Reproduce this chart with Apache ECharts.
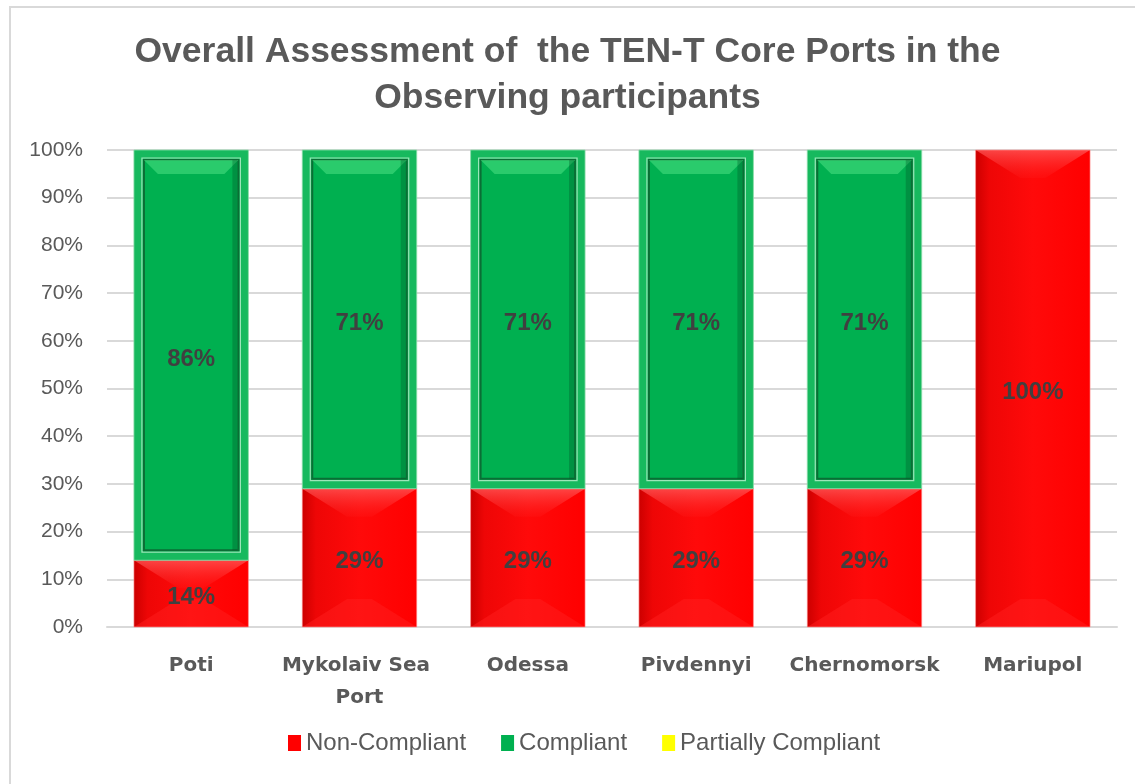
<!DOCTYPE html>
<html>
<head>
<meta charset="utf-8">
<title>TEN-T Core Ports</title>
<script src="https://cdn.jsdelivr.net/npm/echarts@6/dist/echarts.min.js"></script>
<style>
  html, body { margin: 0; padding: 0; background: #fff; }
  #chart { width: 1135px; height: 784px; }
</style>
</head>
<body>
<div id="chart"></div>
<script>
// data
var ports = ['Poti', 'Mykolaiv Sea Port', 'Odessa', 'Pivdennyi', 'Chernomorsk', 'Mariupol'];
var nonCompliant = [14, 29, 29, 29, 29, 100];
var compliant = [86, 71, 71, 71, 71, 0];
var partial = [0, 0, 0, 0, 0, 0];
var yTicks = [0, 10, 20, 30, 40, 50, 60, 70, 80, 90, 100];

var RED = '#ff0000';
var GREEN = '#00b050';
var YELLOW = '#ffff00';
var TXT = '#595959';

// [category, base, top, value] for the stacked segments
function stackRows(vals, below) {
  return vals.map(function (v, i) {
    var base = below ? below[i] : 0;
    return [i, base, base + v, v];
  });
}

function segment(kind) {
  return function (params, api) {
    var v = api.value(3);
    if (!v) return;
    var p0 = api.coord([api.value(0), api.value(1)]);
    var p1 = api.coord([api.value(0), api.value(2)]);
    var w = api.size([1, 0])[0] * 0.68;
    var x = p0[0] - w / 2, y = p1[1], h = p0[1] - p1[1];
    var kids = [];
    if (kind === 'red') {
      kids.push({
        type: 'rect', shape: { x: x, y: y, width: w, height: h },
        style: { fill: new echarts.graphic.LinearGradient(0, 0, 1, 0, [
          { offset: 0, color: '#cc0000' }, { offset: 0.12, color: '#ee0606' },
          { offset: 0.5, color: '#ff0a0a' }, { offset: 1, color: '#ff0000' }]) }
      });
      // bevel faces: lighter top, darker bottom
      var b = Math.min(28, h / 2);
      kids.push({
        type: 'polygon',
        shape: { points: [[x, y], [x + w, y], [x + w - b * 1.6, y + b], [x + b * 1.6, y + b]] },
        style: { fill: new echarts.graphic.LinearGradient(0, 0, 0, 1, [
          { offset: 0, color: 'rgba(255,90,90,0.75)' }, { offset: 1, color: 'rgba(255,40,40,0.15)' }]) }
      });
      kids.push({
        type: 'polygon',
        shape: { points: [[x, y + h], [x + w, y + h], [x + w - b * 1.6, y + h - b], [x + b * 1.6, y + h - b]] },
        style: { fill: 'rgba(255,30,30,0.5)' }
      });
      kids.push({
        type: 'rect', shape: { x: x, y: y, width: w, height: h },
        style: { fill: 'none', stroke: 'rgba(255,150,150,0.6)', lineWidth: 1 }
      });
    } else {
      kids.push({
        type: 'rect', shape: { x: x, y: y, width: w, height: h },
        style: { fill: '#17b95e', stroke: 'rgba(140,220,170,0.8)', lineWidth: 1 }
      });
      var ins = 10;
      kids.push({
        type: 'rect', shape: { x: x + ins - 2, y: y + ins - 2, width: w - 2 * ins + 4, height: h - 2 * ins + 4 },
        style: { fill: 'none', stroke: 'rgba(170,235,195,0.9)', lineWidth: 1.2 }
      });
      kids.push({
        type: 'rect', shape: { x: x + ins, y: y + ins, width: w - 2 * ins, height: h - 2 * ins },
        style: { fill: GREEN, stroke: '#0a6e35', lineWidth: 2 }
      });
      kids.push({
        type: 'polygon',
        shape: { points: [[x + ins, y + ins], [x + w - ins, y + ins], [x + w - ins - 14, y + ins + 14], [x + ins + 14, y + ins + 14]] },
        style: { fill: 'rgba(60,215,120,0.7)' }
      });
      kids.push({
        type: 'rect', shape: { x: x + w - ins - 6, y: y + ins, width: 5, height: h - 2 * ins },
        style: { fill: 'rgba(0,90,40,0.35)' }
      });
    }
    kids.push({
      type: 'text',
      style: {
        text: v + '%', x: p0[0], y: (p0[1] + p1[1]) / 2 + 4,
        align: 'center', verticalAlign: 'middle',
        font: 'bold 24px "Liberation Sans", Arial, sans-serif', fill: '#404040'
      }
    });
    return { type: 'group', children: kids };
  };
}

var chart = echarts.init(document.getElementById('chart'));

var option = {
  backgroundColor: '#fff',
  animation: false,
  textStyle: { fontFamily: '"Liberation Sans", Arial, sans-serif' },
  title: {
    text: 'Overall Assessment of  the TEN-T Core Ports in the\nObserving participants',
    left: 'center',
    top: 24,
    textStyle: { color: TXT, fontSize: 35.5, fontWeight: 'bold', lineHeight: 46 }
  },
  graphic: [{
    type: 'rect', silent: true, z: -1,
    shape: { x: 10, y: 7, width: 1300, height: 1000 },
    style: { fill: 'none', stroke: '#d9d9d9', lineWidth: 2 }
  }],
  legend: {
    bottom: 24,
    left: 283,
    itemWidth: 13,
    itemHeight: 16,
    itemGap: 35,
    itemTextGap: 7,
    icon: 'rect',
    textStyle: { color: TXT, fontSize: 24 },
    data: ['Non-Compliant', 'Compliant', 'Partially Compliant']
  },
  grid: { left: 107, right: 18, top: 150, bottom: 157 },
  xAxis: {
    type: 'category',
    data: ports,
    axisLine: { show: true, lineStyle: { color: '#d9d9d9', width: 2 } },
    axisTick: { show: false },
    axisLabel: {
      color: TXT, fontSize: 20, fontWeight: 'bold', margin: 23,
      fontFamily: '"DejaVu Sans", sans-serif',
      width: 168, overflow: 'break', lineHeight: 32, interval: 0
    }
  },
  yAxis: {
    type: 'value',
    min: yTicks[0],
    max: yTicks[yTicks.length - 1],
    interval: 10,
    axisLine: { show: false },
    axisTick: { show: false },
    splitLine: { lineStyle: { color: '#d9d9d9', width: 2 } },
    axisLabel: { color: TXT, fontSize: 21, margin: 24, formatter: '{value}%' }
  },
  series: [
    {
      name: 'Non-Compliant',
      type: 'custom',
      itemStyle: { color: RED },
      renderItem: segment('red'),
      encode: { x: 0, y: [1, 2] },
      data: stackRows(nonCompliant)
    },
    {
      name: 'Compliant',
      type: 'custom',
      itemStyle: { color: GREEN },
      renderItem: segment('green'),
      encode: { x: 0, y: [1, 2] },
      data: stackRows(compliant, nonCompliant)
    },
    {
      name: 'Partially Compliant',
      type: 'bar',
      stack: 'p',
      itemStyle: { color: YELLOW },
      data: partial
    }
  ]
};

chart.setOption(option);
window.addEventListener('resize', function () { chart.resize(); });
</script>
</body>
</html>
